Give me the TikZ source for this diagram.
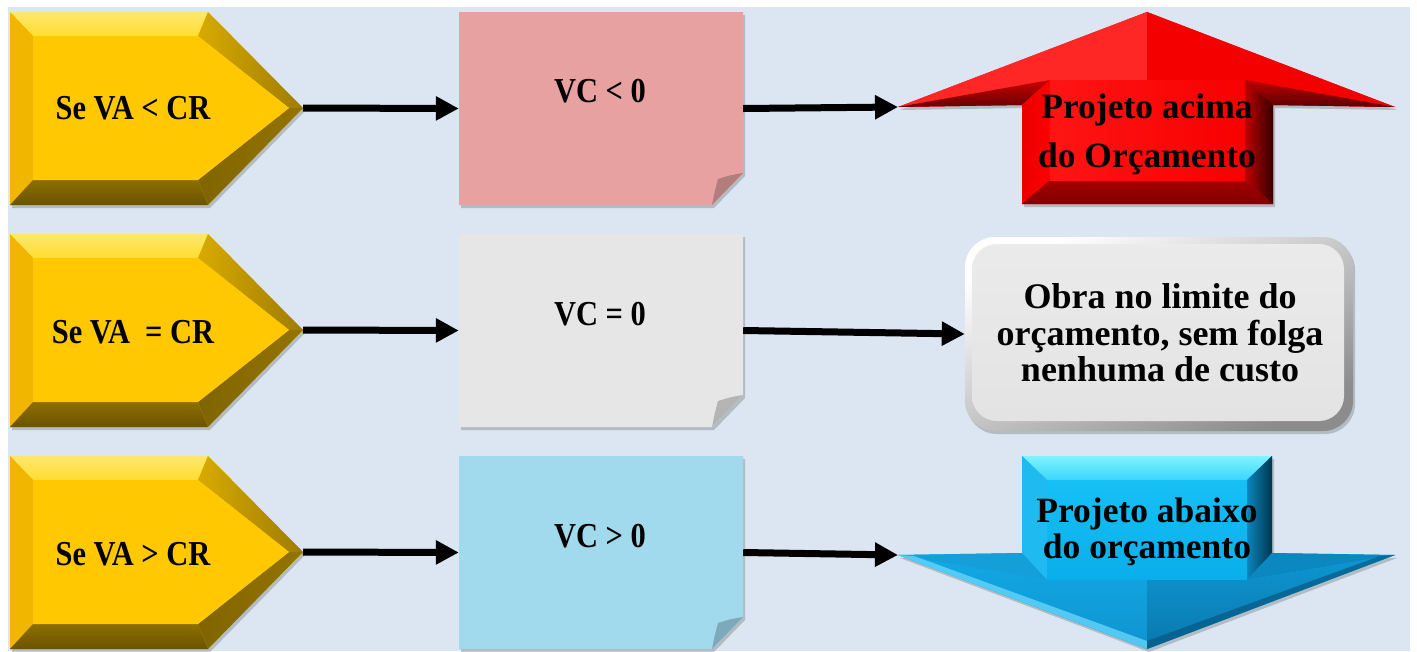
\documentclass[tikz,border=0pt]{standalone}
\usepackage{fontspec}
\setmainfont{Liberation Serif}
\newfontfamily\narrowfont[FakeStretch=0.87]{Liberation Serif}
\usetikzlibrary{arrows.meta,shadows}
\definecolor{bgc}{HTML}{DCE6F2}
\definecolor{chevface}{HTML}{FFC800}
\definecolor{chevtop}{HTML}{FFDD30}
\definecolor{chevleft}{HTML}{F0B600}
\definecolor{notepink}{HTML}{E6A1A0}
\definecolor{notegray}{HTML}{E6E6E6}
\definecolor{noteblue}{HTML}{A0DAEC}
\definecolor{bmain}{HTML}{12ACE8}
\definecolor{btopa}{HTML}{7FF3FF}
\definecolor{btopb}{HTML}{3AD6FA}
\definecolor{bleft}{HTML}{1FBBF0}
\definecolor{brighta}{HTML}{0A86BC}
\definecolor{brightb}{HTML}{03344E}
\definecolor{bfacea}{HTML}{16C0F5}
\definecolor{bfaceb}{HTML}{0AAEEA}
\definecolor{bwingl}{HTML}{159FD8}
\definecolor{bwingr}{HTML}{0C88C0}
\definecolor{bheadla}{HTML}{12A8E4}
\definecolor{bheadlb}{HTML}{0E94D0}
\definecolor{bheadra}{HTML}{0E96D2}
\definecolor{bheadrb}{HTML}{0A78AE}
\definecolor{blight}{HTML}{70DDFF}
\definecolor{bdark}{HTML}{04527A}
\tikzset{
  shad/.style={drop shadow={shadow xshift=2pt,shadow yshift=-3pt,opacity=.28,fill=black!70}},
  capl/.style={font=\narrowfont\bfseries\fontsize{35}{40}\selectfont, anchor=base, inner sep=0pt},
  lowl/.style={font=\bfseries\fontsize{35.5}{40}\selectfont, anchor=base, inner sep=0pt},
  boxl/.style={font=\bfseries\fontsize{36}{40}\selectfont, anchor=base, inner sep=0pt},
  anchorbox/.style={draw=none, inner sep=0pt, minimum width=#1},
  conn/.style={line width=7pt, -{Triangle[length=23pt,width=23pt]}},
  chev/.pic={
    \fill[shad, fill=chevface] (0,0)--(198,0)--(293,96)--(198,193)--(0,193)--cycle;
    \shade[top color=chevtop!70!white, bottom color=chevtop] (0,0)--(198,0)--(188,24)--(23,24)--cycle;
    \fill[chevleft] (0,0)--(23,24)--(23,168)--(0,193)--cycle;
    \shade[top color=black!45!chevface, bottom color=black!58!chevface] (0,193)--(23,168)--(188,168)--(198,193)--cycle;
    \shade[left color=black!15!chevface, right color=black!38!chevface] (198,0)--(293,96)--(279,96)--(188,24)--cycle;
    \shade[left color=black!50!chevface, right color=black!42!chevface] (293,96)--(198,193)--(188,168)--(279,96)--cycle;
    \fill[chevface] (23,24)--(188,24)--(279,96)--(188,168)--(23,168)--cycle;
  },
  note/.pic={
    \fill[shad, fill=#1] (0,0)--(284,0)--(284,161)--(253,193)--(0,193)--cycle;
    \fill[#1!78!black] (284,161) .. controls (272,163) .. (259,167) .. controls (256,178) .. (253,193) -- cycle;
  },
}
\begin{document}
\begin{tikzpicture}[x=1pt,y=-1pt]
\useasboundingbox (0,0) rectangle (1417,651);
\fill[white] (0,0) rectangle (1417,651);
\fill[bgc] (8,7) rectangle (1410,651);

% chevrons
\pic at (10,12) {chev};
\pic at (10,234) {chev};
\pic at (10,456) {chev};
\coordinate (ch1) at (303,108);
\coordinate (ch2) at (303,330);
\coordinate (ch3) at (303,552);

% notes
\pic at (459,12) {note=notepink};
\pic at (459,234) {note=notegray};
\pic at (459,456) {note=noteblue};
\node[anchorbox=284pt, minimum height=193pt] (n1) at (601,108.5) {};
\node[anchorbox=284pt, minimum height=193pt] (n2) at (601,330.5) {};
\node[anchorbox=284pt, minimum height=193pt] (n3) at (601,552.5) {};

% red up arrow
\fill[shad, fill=red] (1147,12)--(1395,107)--(1273,105)--(1273,204)--(1022,204)--(1022,105)--(898,107)--cycle;
\fill[red!85!white] (1147,12)--(898,107)--(1022,105)--(1147,105)--cycle;
\fill[red!96!black] (1147,12)--(1395,107)--(1273,105)--(1147,105)--cycle;
\shade[top color=red!80!black, bottom color=red!40!black] (898,107)--(1022,105)--(1050,80)--cycle;
\shade[top color=red!75!black, bottom color=red!35!black] (1395,107)--(1273,105)--(1245,80)--cycle;
\shade[left color=red!92!black, right color=red] (1022,105)--(1050,80)--(1050,180)--(1022,204)--cycle;
\shade[left color=red!75!black, right color=red!20!black] (1273,105)--(1245,80)--(1245,180)--(1273,204)--cycle;
\shade[top color=red!65!black, bottom color=red!50!black] (1022,204)--(1050,180)--(1245,180)--(1273,204)--cycle;
\shade[left color=red!92!white, right color=red!97!black] (1050,80) rectangle (1245,180);
\coordinate (up) at (898,107);

% gray rounded box
\shade[shad, rounded corners=30pt, top color=white, bottom color=black!45, shading angle=25] (965,237) rectangle (1353,431);
\shade[rounded corners=25pt, top color=black!8, bottom color=black!11] (972,244) rectangle (1344,421);
\node[anchorbox=388pt, minimum height=194pt] (ok) at (1159,334) {};

% blue down arrow
\fill[shad, fill=bmain] (1022,456)--(1272,456)--(1272,553)--(1395,555)--(1147,649)--(898,555)--(1022,553)--cycle;
\shade[top color=btopa, bottom color=btopb] (1022,456)--(1272,456)--(1247,480)--(1047,480)--cycle;
\fill[bleft] (1022,456)--(1047,480)--(1047,580)--(1022,553)--cycle;
\shade[left color=brighta, right color=brightb] (1272,456)--(1247,480)--(1247,580)--(1272,553)--cycle;
\shade[top color=bfacea, bottom color=bfaceb] (1047,480) rectangle (1247,580);
\fill[bwingl] (898,555)--(1022,553)--(1047,580)--cycle;
\fill[bwingr] (1395,555)--(1272,553)--(1247,580)--cycle;
\shade[top color=bheadla, bottom color=bheadlb] (898,555)--(1047,580)--(1147,580)--(1147,649)--cycle;
\shade[top color=bheadra, bottom color=bheadrb] (1395,555)--(1247,580)--(1147,580)--(1147,649)--cycle;
\fill[blight, opacity=.7] (898,555)--(1147,649)--(1147,641)--(914,556)--cycle;
\fill[bdark, opacity=.6] (1395,555)--(1147,649)--(1147,641)--(1380,556)--cycle;
\coordinate (dn) at (898,555);

% texts
\node[capl] (t1) at (133,119) {Se VA < CR};
\node[capl] (t2) at (133,343) {Se VA \ = CR};
\node[capl] (t3) at (133,565) {Se VA > CR};
\node[capl] (v1) at (600,102) {VC < 0};
\node[capl] (v2) at (600,325) {VC = 0};
\node[capl] (v3) at (600,547) {VC > 0};
\node[lowl] (r1) at (1147,118) {Projeto acima};
\node[lowl] (r2) at (1147,167) {do Orçamento};
\node[boxl] (g1) at (1160,308) {Obra no limite do};
\node[boxl] (g2) at (1160,345) {orçamento, sem folga};
\node[boxl] (g3) at (1160,381) {nenhuma de custo};
\node[lowl] (b1) at (1147,522) {Projeto abaixo};
\node[lowl] (b2) at (1147,558) {do orçamento};

% connectors
\draw[conn] (ch1) -- (n1.west);
\draw[conn] (ch2) -- (n2.west);
\draw[conn] (ch3) -- (n3.west);
\draw[conn] (n1.east) -- (up);
\draw[conn] (n2.east) -- (ok.west);
\draw[conn] (n3.east) -- (dn);
\end{tikzpicture}
\end{document}
